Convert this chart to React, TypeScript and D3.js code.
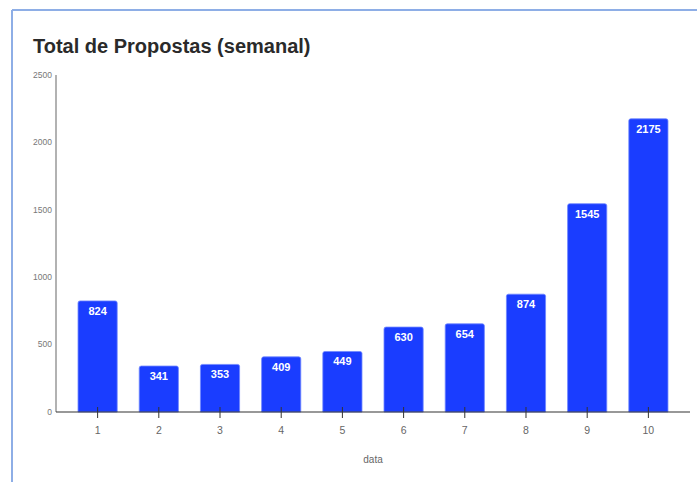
import React from "react";
import * as d3 from "d3";

const categories = ["1", "2", "3", "4", "5", "6", "7", "8", "9", "10"];
const values = [824, 341, 353, 409, 449, 630, 654, 874, 1545, 2175];
const yTicks = [0, 500, 1000, 1500, 2000, 2500];
const title = "Total de Propostas (semanal)";
const xLabel = "data";

const W = 697;
const H = 482;
const M = { left: 56, right: 7, top: 75, bottom: 70 };

export default function App() {
  const x = d3
    .scaleBand<string>()
    .domain(categories)
    .range([M.left, W - M.right])
    .paddingInner(0.36)
    .paddingOuter(0.36);
  const y = d3.scaleLinear().domain([0, 2500]).range([H - M.bottom, M.top]);
  const y0 = y(0);
  const font = "Liberation Sans, Arial, sans-serif";

  return (
    <div style={{ position: "absolute", left: 0, top: 0 }}>
      <svg width={W} height={H} style={{ display: "block", fontFamily: font }}>
        <rect x={0} y={0} width={W} height={H} fill="#fff" />
        <line x1={12} y1={10} x2={W} y2={10} stroke="#8eaee6" strokeWidth={2} />
        <line x1={12} y1={10} x2={12} y2={H} stroke="#8eaee6" strokeWidth={2} />
        <text x={33} y={53} fontSize={20} fontWeight="bold" fill="#2a2a2a">
          {title}
        </text>
        {yTicks.map((t) => (
          <text
            key={t}
            x={M.left - 4}
            y={y(t)}
            dy="0.32em"
            textAnchor="end"
            fontSize={8.5}
            fill="#777"
          >
            {t}
          </text>
        ))}
        <line x1={M.left} y1={M.top} x2={M.left} y2={y0} stroke="#999" strokeWidth={1.5} />
        {values.map((v, i) => {
          const c = categories[i];
          const bx = x(c)!;
          const bw = x.bandwidth();
          const by = y(v);
          const r = 2;
          const path = `M${bx},${y0} V${by + r} Q${bx},${by} ${bx + r},${by} H${bx + bw - r} Q${bx + bw},${by} ${bx + bw},${by + r} V${y0} Z`;
          return (
            <g key={c}>
              <path d={path} fill="#1a3dff" stroke="#6f86ff" strokeWidth={0.8} />
              <text
                x={bx + bw / 2}
                y={by + 14}
                textAnchor="middle"
                fontSize={11}
                fontWeight="bold"
                fill="#fff"
              >
                {v}
              </text>
            </g>
          );
        })}
        <line x1={M.left} y1={y0} x2={W - M.right} y2={y0} stroke="#333" strokeWidth={1.2} />
        {categories.map((c) => {
          const cx = x(c)! + x.bandwidth() / 2;
          return (
            <g key={c}>
              <line x1={cx} y1={y0 - 5} x2={cx} y2={y0 + 6} stroke="#333" strokeWidth={1} />
              <text x={cx} y={y0 + 22} textAnchor="middle" fontSize={10.5} fill="#666">
                {c}
              </text>
            </g>
          );
        })}
        <text x={(M.left + W - M.right) / 2} y={463} textAnchor="middle" fontSize={10} fill="#666">
          {xLabel}
        </text>
      </svg>
    </div>
  );
}
